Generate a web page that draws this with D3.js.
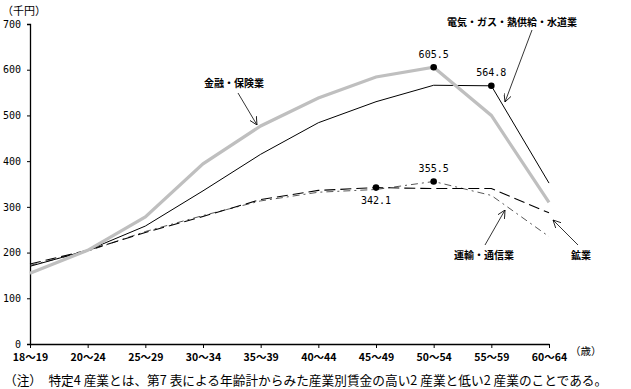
<!DOCTYPE html>
<html>
<head>
<meta charset="utf-8">
<script src="https://cdn.jsdelivr.net/npm/d3@7"></script>
<style>
  body { margin: 0; background: #fff; }
  svg { display: block; }
  .jp { font-family: "Noto Sans CJK JP", sans-serif; }
  .num { font-family: "DejaVu Sans Mono", monospace; }
</style>
</head>
<body>
<div id="chart"></div>
<script>
// DATA
const ages = ["18～19", "20～24", "25～29", "30～34", "35～39", "40～44", "45～49", "50～54", "55～59", "60～64"];
const finance = [155, 205, 278, 394, 477, 538, 584, 605.5, 500, 310];     // 金融・保険業
const utilities = [170, 205, 258, 335, 415, 484, 530, 566, 564.8, 352];  // 電気・ガス・熱供給・水道業
const mining = [175, 205, 244, 279, 316, 336, 342.1, 340, 340, 287];     // 鉱業
const transport = [172, 203, 246, 281, 313, 332, 338, 355.5, 325, 235];  // 運輸・通信業
const yTicks = [0, 100, 200, 300, 400, 500, 600, 700];

const width = 631, height = 389;
const margin = { top: 24, left: 30, right: 82, bottom: 45 };

const svg = d3.select("#chart").append("svg")
  .attr("width", width)
  .attr("height", height);

const x = d3.scalePoint()
  .domain(ages)
  .range([margin.left, width - margin.right]);

const y = d3.scaleLinear()
  .domain([0, 700])
  .range([height - margin.bottom, margin.top]);

// axes
const yAxisG = svg.append("g")
  .attr("transform", `translate(${margin.left},0)`)
  .call(d3.axisLeft(y).tickValues(yTicks).tickSize(3).tickPadding(6));
yAxisG.select(".domain").attr("stroke", "#000").attr("stroke-width", 1.3);
yAxisG.selectAll("text").attr("class", "num").attr("font-size", 10).attr("fill", "#000");

const xAxisG = svg.append("g")
  .attr("transform", `translate(0,${y(0)})`)
  .call(d3.axisBottom(x).tickSize(4).tickSizeOuter(0).tickPadding(6));
xAxisG.select(".domain").attr("stroke", "#000").attr("stroke-width", 1.3);
xAxisG.selectAll("text").attr("class", "jp").attr("font-size", 10.5).attr("font-weight", "bold").attr("fill", "#000");

svg.append("text").attr("class", "jp")
  .attr("x", 2).attr("y", 15).attr("font-size", 11).text("（千円）");
svg.append("text").attr("class", "jp")
  .attr("x", 570).attr("y", 355).attr("font-size", 10.5).text("（歳）");

// lines
const line = d3.line().x((d, i) => x(ages[i])).y(d => y(d));

const series = [
  { data: transport, stroke: "#444", width: 0.9, dash: "7,4,2,4" },
  { data: mining, stroke: "#000", width: 1.1, dash: "11,5" },
  { data: utilities, stroke: "#000", width: 1, dash: null },
  { data: finance, stroke: "#bfbfbf", width: 3.2, dash: null }
];

svg.selectAll(".series").data(series).enter().append("path")
  .attr("class", "series")
  .attr("fill", "none")
  .attr("stroke", d => d.stroke)
  .attr("stroke-width", d => d.width)
  .attr("stroke-dasharray", d => d.dash)
  .attr("d", d => line(d.data));

// marked peaks
const peaks = [
  { age: "50～54", v: 605.5, dy: -9 },
  { age: "55～59", v: 564.8, dy: -10 },
  { age: "50～54", v: 355.5, dy: -9 },
  { age: "45～49", v: 342.1, dy: 16 }
];
svg.selectAll(".peak").data(peaks).enter().append("circle")
  .attr("cx", d => x(d.age)).attr("cy", d => y(d.v)).attr("r", 3.3).attr("fill", "#000");
svg.selectAll(".peak-label").data(peaks).enter().append("text")
  .attr("class", "num")
  .attr("x", d => x(d.age)).attr("y", d => y(d.v) + d.dy)
  .attr("text-anchor", "middle").attr("font-size", 10)
  .text(d => d.v.toFixed(1));

// annotations
svg.append("defs").append("marker")
  .attr("id", "arr").attr("viewBox", "0 0 10 10")
  .attr("refX", 10).attr("refY", 5)
  .attr("markerWidth", 8).attr("markerHeight", 8)
  .attr("markerUnits", "userSpaceOnUse")
  .attr("orient", "auto")
  .append("path").attr("d", "M0,0 L10,5 L0,10").attr("fill", "none").attr("stroke", "#000");

const notes = [
  { text: "金融・保険業", tx: 234, ty: 87, x1: 238, y1: 93, x2: 257, y2: 125 },
  { text: "電気・ガス・熱供給・水道業", tx: 512, ty: 26, x1: 532, y1: 30, x2: 505, y2: 102 },
  { text: "運輸・通信業", tx: 484, ty: 259, x1: 485, y1: 245, x2: 505, y2: 210 },
  { text: "鉱業", tx: 581, ty: 259, x1: 578, y1: 245, x2: 553, y2: 220 }
];
svg.selectAll(".note-line").data(notes).enter().append("line")
  .attr("x1", d => d.x1).attr("y1", d => d.y1)
  .attr("x2", d => d.x2).attr("y2", d => d.y2)
  .attr("stroke", "#000").attr("stroke-width", 0.8)
  .attr("marker-end", "url(#arr)");
svg.selectAll(".note-text").data(notes).enter().append("text")
  .attr("class", "jp")
  .attr("x", d => d.tx).attr("y", d => d.ty)
  .attr("text-anchor", "middle").attr("font-size", 10).attr("font-weight", "bold")
  .text(d => d.text);

// footnote
svg.append("text").attr("class", "jp")
  .attr("x", 4).attr("y", 385).attr("font-size", 12.7)
  .text("（注）　特定4 産業とは、第7 表による年齢計からみた産業別賃金の高い2 産業と低い2 産業のことである。");
</script>
</body>
</html>
